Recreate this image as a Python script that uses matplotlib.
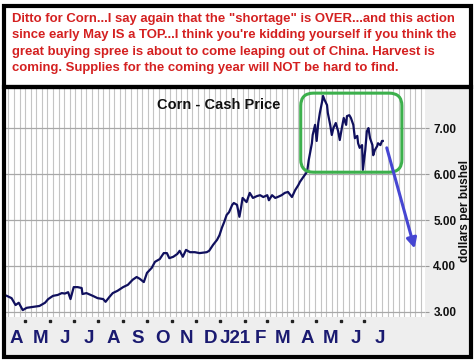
import matplotlib
matplotlib.use('Agg')
import matplotlib.pyplot as plt
import matplotlib.dates as mdates
import matplotlib.transforms as mtransforms
import pandas as pd
from matplotlib.patches import Rectangle, FancyBboxPatch, FancyArrowPatch

plt.rcParams['font.family'] = ['Liberation Sans', 'DejaVu Sans']

# ---------------- data ----------------
dates = [
    "2020-04-08", "2020-04-14", "2020-04-19", "2020-04-23", "2020-04-28", "2020-05-03",
    "2020-05-11", "2020-05-19", "2020-05-26", "2020-05-30", "2020-06-05", "2020-06-11",
    "2020-06-16", "2020-06-20", "2020-06-24", "2020-06-27", "2020-07-01", "2020-07-06",
    "2020-07-11", "2020-07-12", "2020-07-17", "2020-07-25", "2020-07-31", "2020-08-07",
    "2020-08-10", "2020-08-15", "2020-08-19", "2020-08-25", "2020-09-01", "2020-09-07",
    "2020-09-13", "2020-09-18", "2020-09-22", "2020-09-27", "2020-10-01", "2020-10-07",
    "2020-10-11", "2020-10-17", "2020-10-22", "2020-10-26", "2020-10-29", "2020-11-03",
    "2020-11-08", "2020-11-11", "2020-11-15", "2020-11-19", "2020-11-24", "2020-11-30",
    "2020-12-06", "2020-12-15", "2020-12-18", "2020-12-23", "2020-12-28", "2020-12-31",
    "2021-01-03", "2021-01-06", "2021-01-09", "2021-01-12", "2021-01-16", "2021-01-18",
    "2021-01-22", "2021-01-25", "2021-01-27", "2021-01-29", "2021-02-03", "2021-02-07",
    "2021-02-11", "2021-02-16", "2021-02-20", "2021-02-24", "2021-03-01", "2021-03-03",
    "2021-03-07", "2021-03-11", "2021-03-14", "2021-03-19", "2021-03-23", "2021-03-27",
    "2021-04-01", "2021-04-05", "2021-04-09", "2021-04-11", "2021-04-15", "2021-04-20",
    "2021-04-22", "2021-04-26", "2021-04-27", "2021-04-30", "2021-05-02", "2021-05-04",
    "2021-05-06", "2021-05-09", "2021-05-10", "2021-05-12", "2021-05-15", "2021-05-16",
    "2021-05-19", "2021-05-21", "2021-05-23", "2021-05-26", "2021-05-29", "2021-05-31",
    "2021-06-03", "2021-06-05", "2021-06-08", "2021-06-09", "2021-06-12", "2021-06-14",
    "2021-06-17", "2021-06-19", "2021-06-22", "2021-06-23", "2021-06-25", "2021-06-28",
    "2021-06-29", "2021-07-02", "2021-07-04", "2021-07-06", "2021-07-08", "2021-07-11",
    "2021-07-12", "2021-07-14", "2021-07-17", "2021-07-18", "2021-07-21", "2021-07-23",
    "2021-07-24",
]
prices = [
    3.35, 3.30, 3.15, 3.20, 3.04, 3.09,
    3.11, 3.13, 3.20, 3.28, 3.35, 3.37,
    3.41, 3.40, 3.43, 3.28, 3.54, 3.54,
    3.52, 3.39, 3.41, 3.35, 3.30, 3.28,
    3.22, 3.33, 3.41, 3.46, 3.54, 3.59,
    3.70, 3.76, 3.72, 3.65, 3.85, 3.96,
    4.09, 4.15, 4.28, 4.28, 4.17, 4.20,
    4.26, 4.33, 4.20, 4.35, 4.30, 4.30,
    4.28, 4.30, 4.33, 4.46, 4.57, 4.67,
    4.83, 4.96, 5.11, 5.17, 5.33, 5.37,
    5.33, 5.07, 5.26, 5.48, 5.39, 5.59,
    5.48, 5.52, 5.54, 5.50, 5.54, 5.43,
    5.54, 5.48, 5.50, 5.54, 5.59, 5.61,
    5.50, 5.65, 5.76, 5.83, 5.93, 6.05,
    6.30, 6.67, 6.85, 7.07, 6.72, 7.11,
    7.33, 7.59, 7.70, 7.61, 7.50, 7.33,
    7.07, 6.85, 7.00, 7.11, 6.93, 6.74,
    7.04, 7.22, 7.07, 7.26, 7.28, 7.22,
    7.07, 6.78, 6.83, 6.67, 6.57, 6.63,
    6.09, 6.52, 6.93, 7.00, 6.78, 6.63,
    6.41, 6.52, 6.61, 6.67, 6.63, 6.72,
    6.72,
]
month_labels = ["A", "M", "J", "J", "A", "S", "O", "N", "D", "J21", "F", "M", "A", "M", "J", "J"]
label_months = pd.date_range("2020-04-01", periods=16, freq="MS")
y_ticks = [3, 4, 5, 6, 7]

title = "Corn - Cash Price"
ylabel = "dollars per bushel"
comment_lines = [
    "Ditto for Corn...I say again that the \"shortage\" is OVER...and this action",
    "since early May IS a TOP...I think you're kidding yourself if you think the",
    "great buying spree is about to come leaping out of China. Harvest is",
    "coming. Supplies for the coming year will NOT be hard to find.",
]

# ---------------- figure ----------------
W, H = 477, 362
fig = plt.figure(figsize=(W / 100, H / 100), dpi=100)
fig.patch.set_facecolor("white")

def fx(px):
    return px / W

def fy(py):
    return 1 - py / H

# chart grey background
fig.patches.append(Rectangle((fx(4), fy(357)), fx(471.5 - 4), (357 - 87) / H,
                             transform=fig.transFigure, facecolor="#eeeeee",
                             edgecolor="none", zorder=-5))

# plot axes
ax_l, ax_r, ax_t, ax_b = 6, 425, 89, 317
ax = fig.add_axes([fx(ax_l), fy(ax_b), (ax_r - ax_l) / W, (ax_b - ax_t) / H])
ax.set_zorder(1)
ax.set_facecolor("white")

x = pd.to_datetime(dates)
ax.plot(x, prices, color="#10105e", lw=1.6, zorder=3, solid_joinstyle="round")

ax.set_xlim(pd.Timestamp("2020-04-07"), pd.Timestamp("2021-09-15"))
ax.set_ylim(2.89, 7.85)

# weekly vertical gridlines
ax.xaxis.set_major_locator(mdates.WeekdayLocator(byweekday=mdates.FR))
ax.tick_params(axis="x", which="both", length=0, labelbottom=False)
ax.grid(axis="x", color="#c4c4c4", lw=0.8)
ax.set_yticks(y_ticks)
ax.yaxis.tick_right()
ax.set_yticklabels([f"{v:.2f}" for v in y_ticks], fontsize=8.5, fontweight="bold", color="#111111")
ax.tick_params(axis="y", length=3, color="#999999", pad=3)
ax.grid(axis="y", color="#a8a8a8", lw=0.9)
ax.set_axisbelow(True)
for s in ax.spines.values():
    s.set_visible(False)

# month boundary dots and labels
trans = mtransforms.blended_transform_factory(ax.transData, ax.transAxes)
bounds = pd.date_range("2020-05-01", "2021-07-01", freq="MS")
ax.plot(bounds, [-0.018] * len(bounds), ls="none", marker="s", ms=1.8,
        color="#222222", transform=trans, clip_on=False)
for d, lab in zip(label_months, month_labels):
    ax.text(d + pd.Timedelta(days=19), -0.093, lab, transform=trans, ha="center", va="center",
            fontsize=13.5, fontweight="bold", color="#1a1a70", clip_on=False)

# title
ax.text(0.508, 0.93, title, transform=ax.transAxes, ha="center", va="center",
        fontsize=10.5, fontweight="bold", color="#111111")

# y label
fig.text(fx(465), fy(211), ylabel, rotation=90, ha="center", va="center",
         fontsize=8.5, fontweight="bold", color="#111111")

# green highlight box
bx0, bx1 = mdates.date2num(pd.Timestamp("2021-04-12")), mdates.date2num(pd.Timestamp("2021-08-17"))
box = FancyBboxPatch((bx0, 6.04), bx1 - bx0, 7.76 - 6.04,
                     boxstyle="round,pad=0,rounding_size=16",
                     mutation_aspect=0.0217 / 1.256 * 1.0,
                     facecolor="none", edgecolor="#3cb04c", lw=2.2, zorder=4, clip_on=False)
ax.add_patch(box)

# blue arrow
arr = FancyArrowPatch((mdates.date2num(pd.Timestamp("2021-07-29")), 6.57),
                      (mdates.date2num(pd.Timestamp("2021-09-02")), 4.38),
                      arrowstyle="-|>,head_length=6,head_width=3", color="#4646d2",
                      lw=2.2, zorder=4, shrinkA=0, shrinkB=0)
ax.add_patch(arr)

# comment text
for i, line in enumerate(comment_lines):
    fig.text(fx(12), fy(19 + i * 16.3), line, ha="left", va="center",
             fontsize=9.45, fontweight="bold", color="#d42020")

# borders
fig.patches.append(Rectangle((fx(4.5), fy(87)), fx(471.5 - 4.5), (87 - 6) / H,
                             transform=fig.transFigure, facecolor="none",
                             edgecolor="black", lw=3.0, zorder=10))
fig.patches.append(Rectangle((fx(4), fy(357)), fx(471.5 - 4), (357 - 87) / H,
                             transform=fig.transFigure, facecolor="none",
                             edgecolor="black", lw=3.0, zorder=10))

fig.savefig("out.png", dpi=100)
